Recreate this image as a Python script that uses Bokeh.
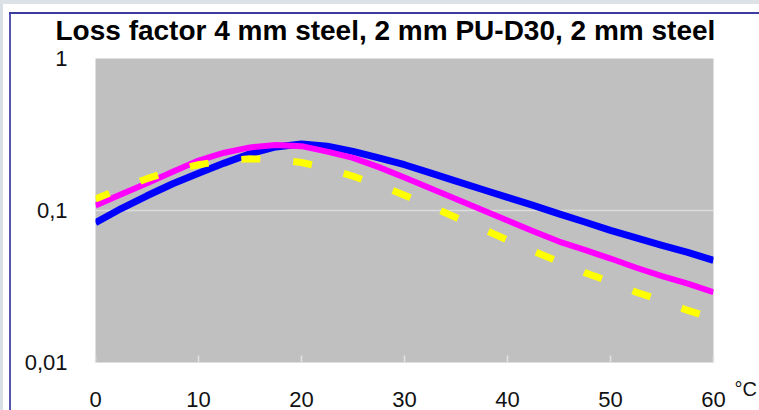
from bokeh.plotting import figure
from bokeh.models import Range1d, FixedTicker, LogAxis
from bokeh.embed import file_html
from bokeh.resources import INLINE

# Data
temps = [0, 2.5, 5, 7.5, 10, 12.5, 15, 17.5, 20, 22.5, 25, 27.5, 30,
         32.5, 35, 37.5, 40, 42.5, 45, 47.5, 50, 52.5, 55, 57.5, 60]
blue_vals = [0.083, 0.103, 0.125, 0.15, 0.176, 0.205, 0.236, 0.262, 0.274, 0.265,
             0.245, 0.222, 0.2, 0.177, 0.156, 0.138, 0.122, 0.108, 0.095, 0.084,
             0.074, 0.066, 0.059, 0.053, 0.047]
magenta_vals = [0.108, 0.128, 0.151, 0.18, 0.213, 0.24, 0.26, 0.27, 0.265, 0.244,
                0.222, 0.193, 0.165, 0.14, 0.119, 0.101, 0.086, 0.073, 0.0625, 0.055,
                0.0483, 0.042, 0.037, 0.033, 0.029]
yellow_vals = [0.119, 0.14, 0.162, 0.183, 0.2, 0.213, 0.219, 0.216, 0.207, 0.19,
               0.168, 0.147, 0.126, 0.107, 0.09, 0.076, 0.064, 0.054, 0.046, 0.039,
               0.034, 0.029, 0.0255, 0.022, 0.0195]

x_ticks = [0, 10, 20, 30, 40, 50, 60]
y_ticks = [0.01, 0.1, 1]
y_tick_labels = {0.01: "0,01", 0.1: "0,1", 1: "1"}
title_text = "Loss factor 4 mm steel, 2 mm PU-D30, 2 mm steel"
unit_text = "°C"

FONT = "Liberation Sans"

# slide frame behind the (transparent) canvas border: grey page edge, blue box lines
frame_css = ", ".join([
    "linear-gradient(#3c3ca0, #3c3ca0) 9px 12px / 750px 2px no-repeat",
    "linear-gradient(#5656b4, #5656b4) 9px 12px / 2px 398px no-repeat",
    "linear-gradient(#dde2e6, #dde2e6) 0px 0px / 759px 4px no-repeat",
    "linear-gradient(#d8dee6, #d8dee6) 0px 0px / 3px 410px no-repeat",
    "#ffffff",
])

p = figure(width=759, height=410, y_axis_type="log",
           x_range=Range1d(0, 60), y_range=Range1d(0.01, 1),
           output_backend="svg", toolbar_location=None,
           min_border_left=95, min_border_right=46,
           min_border_top=58, min_border_bottom=48)
p.styles = {"background": frame_css}

p.background_fill_color = "#c0c0c0"
p.border_fill_color = "white"
p.border_fill_alpha = 0
p.outline_line_color = None

p.title.text = title_text
p.title.text_font = FONT
p.title.text_font_size = "28px"
p.title.text_font_style = "bold"
p.title.text_color = "black"
p.title.align = "left"
p.title.offset = -40
p.title.standoff = 25

# grid
p.xgrid.visible = False
p.ygrid.ticker = FixedTicker(ticks=[0.1])
p.ygrid.grid_line_color = "#dcdcdc"
p.ygrid.grid_line_width = 1.5

# axes
p.yaxis.ticker = FixedTicker(ticks=y_ticks)
p.yaxis.major_label_overrides = y_tick_labels
p.yaxis.axis_line_color = None
p.yaxis.major_tick_line_color = None
p.yaxis.minor_tick_line_color = None
p.yaxis.major_label_text_font = FONT
p.yaxis.major_label_text_font_size = "22px"
p.yaxis.major_label_text_color = "#111111"
p.yaxis.major_label_standoff = 22

p.xaxis.ticker = FixedTicker(ticks=x_ticks)
p.xaxis.axis_line_color = None
p.xaxis.major_tick_in = 7
p.xaxis.major_tick_out = 0
p.xaxis.major_tick_line_color = "#e2e2e2"
p.xaxis.major_tick_line_width = 1.5
p.xaxis.minor_tick_line_color = None
p.xaxis.major_label_text_font = FONT
p.xaxis.major_label_text_font_size = "22px"
p.xaxis.major_label_text_color = "#111111"
p.xaxis.major_label_standoff = 29

# unit label on a right-hand axis, level with the x tick labels
unit_axis = LogAxis(ticker=FixedTicker(ticks=[0.01]),
                    major_label_overrides={0.01: "\n\n" + unit_text},
                    axis_line_color=None, major_tick_line_color=None,
                    minor_tick_line_color=None,
                    major_label_text_font=FONT, major_label_text_font_size="20px",
                    major_label_text_color="#111111", major_label_standoff=15)
p.add_layout(unit_axis, "right")

# series
p.line(temps, blue_vals, line_color="#0000ff", line_width=7, line_join="round")
p.line(temps, magenta_vals, line_color="#ff00ff", line_width=6, line_join="round")
p.line(temps, yellow_vals, line_color="#ffff00", line_width=7,
       line_dash="19 33", line_dash_offset=4, line_cap="butt")

open("out.html", "w").write(file_html(p, INLINE))
